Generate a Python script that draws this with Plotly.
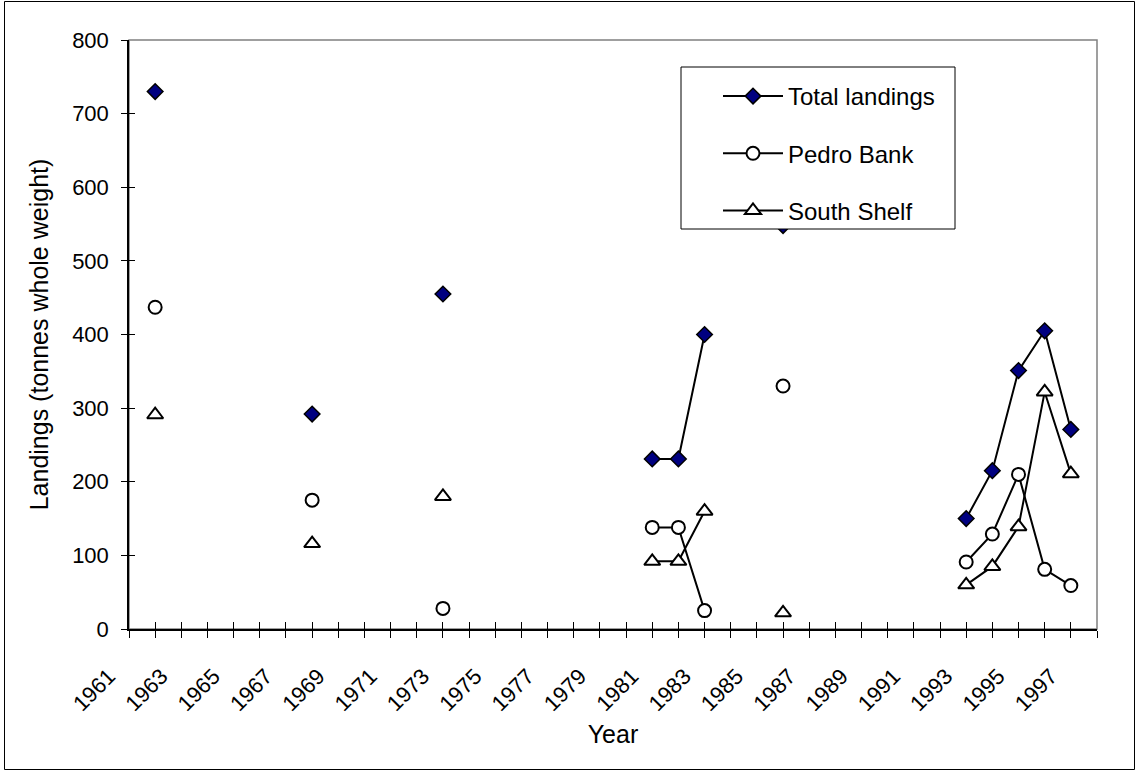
import plotly.graph_objects as go

years = list(range(1961, 1999))
tick_labels = [str(y) if y % 2 == 1 else "" for y in years]

obs_years = [1962, 1968, 1973, 1981, 1982, 1983, 1986, 1993, 1994, 1995, 1996, 1997]
total_landings = [730, 292, 455, 231, 231, 400, 548, 150, 215, 351, 405, 271]
pedro_bank = [437, 175, 28, 138, 138, 25, 330, 91, 129, 210, 81, 59]
south_shelf = [291, 116, 180, 92, 92, 160, 22, 60, 85, 139, 322, 211]

def full_series(vals):
    d = dict(zip(obs_years, vals))
    return [d.get(y) for y in years]

FONT = "Liberation Sans, Arial, sans-serif"

fig = go.Figure()

fig.add_trace(go.Scatter(
    x=years, y=full_series(total_landings), name="Total landings",
    mode="lines+markers", connectgaps=False, legendgroup="a",
    line=dict(color="black", width=2),
    marker=dict(symbol="diamond", size=12, color="#000080",
                line=dict(color="black", width=1.5)),
))
fig.add_trace(go.Scatter(
    x=years, y=full_series(pedro_bank), name="Pedro Bank",
    mode="lines+markers", connectgaps=False, legendgroup="b",
    line=dict(color="black", width=2),
    marker=dict(symbol="circle", size=13, color="white",
                line=dict(color="black", width=2)),
))
fig.add_trace(go.Scatter(
    x=years, y=full_series(south_shelf), name="South Shelf",
    mode="lines+markers", connectgaps=False, legendgroup="c",
    line=dict(color="black", width=2),
    marker=dict(symbol="triangle-up", size=14, color="white",
                line=dict(color="black", width=2)),
))
# empty trace to activate overlay axes used for inside tick marks
fig.add_trace(go.Scatter(x=[], y=[], xaxis="x2", yaxis="y2", showlegend=False, hoverinfo="skip"))

W, H = 1138, 771
L, R, T, B = 129, 41, 40, 142
pw, ph = W - L - R, H - T - B

def px_x(p):
    return (p - L) / pw

def px_y(p):
    return (H - B - p) / ph

fig.update_layout(
    width=W, height=H,
    margin=dict(l=L, r=R, t=T, b=B, pad=0),
    paper_bgcolor="white", plot_bgcolor="white",
    font=dict(family=FONT, color="black", size=22),
    showlegend=True,
    legend=dict(
        x=px_x(718), y=px_y(74), xanchor="left", yanchor="top",
        bgcolor="rgba(0,0,0,0)", borderwidth=0,
        font=dict(family=FONT, size=24, color="black"),
        traceorder="grouped", tracegroupgap=23, itemwidth=60,
    ),
    xaxis=dict(
        range=[1961, 1998], tickmode="array", tickvals=years, ticktext=tick_labels,
        tickangle=-45, ticks="outside", ticklen=7, tickwidth=1, tickcolor="black",
        ticklabelstandoff=17, ticklabelshift=-20,
        showline=True, linecolor="black", linewidth=1.5, showgrid=False, zeroline=False,
        tickfont=dict(family=FONT, size=22),
        title=dict(text="Year", font=dict(family=FONT, size=25), standoff=10),
    ),
    xaxis2=dict(
        range=[1961, 1998], overlaying="x", anchor="y2", tickmode="array", tickvals=years,
        ticks="inside", ticklen=7, tickwidth=1, tickcolor="black", showticklabels=False,
        showline=False, showgrid=False, zeroline=False,
    ),
    yaxis=dict(
        range=[0, 800], tickmode="array", tickvals=list(range(0, 801, 100)),
        ticks="outside", ticklen=6, tickwidth=1, tickcolor="black",
        ticklabelstandoff=8,
        showline=True, linecolor="black", linewidth=1.5, showgrid=False, zeroline=False,
        tickfont=dict(family=FONT, size=22),
        title=dict(text="Landings (tonnes whole weight)", font=dict(family=FONT, size=25), standoff=16),
    ),
    yaxis2=dict(
        range=[0, 800], overlaying="y", anchor="x2", side="left", tickmode="array",
        tickvals=list(range(0, 801, 100)),
        ticks="inside", ticklen=6, tickwidth=1, tickcolor="black", showticklabels=False,
        showline=False, showgrid=False, zeroline=False,
    ),
    shapes=[
        # plot area border
        dict(type="rect", xref="paper", yref="paper", x0=0, x1=1, y0=0, y1=1,
             line=dict(color="#808080", width=1.5), layer="below"),
        # legend box
        dict(type="rect", xref="paper", yref="paper",
             x0=px_x(681), x1=px_x(955), y0=px_y(229), y1=px_y(67),
             fillcolor="white", line=dict(color="black", width=1), layer="above"),
        # outer chart border
        dict(type="rect", xref="paper", yref="paper",
             x0=px_x(4.5), x1=px_x(1134.5), y0=px_y(769.5), y1=px_y(1.5),
             line=dict(color="black", width=1), layer="above"),
    ],
)

fig.write_html(
    "out.html",
    config={"displayModeBar": False},
    post_script="document.body.style.margin='0px';document.body.style.padding='0px';",
)
